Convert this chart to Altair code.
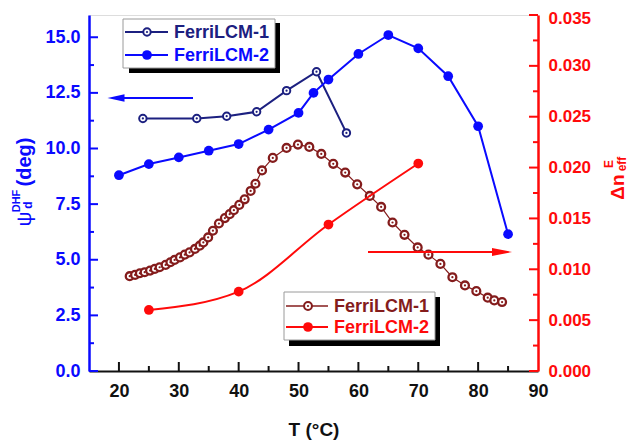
import altair as alt
import pandas as pd

# ---------------- data ----------------
# psi_d^DHF (deg), left axis
t_psi1 = [24, 33, 38, 43, 48, 53, 58]
psi1 = [11.35, 11.35, 11.45, 11.65, 12.6, 13.45, 10.7]
t_psi2 = [20, 25, 30, 35, 40, 45, 50, 52.5, 55, 60, 65, 70, 75, 80, 85]
psi2 = [8.8, 9.3, 9.6, 9.9, 10.2, 10.85, 11.6, 12.5, 13.1, 14.25, 15.1, 14.5, 13.25, 11.0, 6.15]

# Delta n_eff^E, right axis
t_dn1 = [21.8, 22.7, 23.5, 24.3, 25.2, 26.0, 26.8, 27.8, 28.6, 29.3, 30.2, 31.0, 31.8,
         32.7, 33.5, 34.1, 34.9, 35.7, 36.7, 37.7, 38.5, 39.2, 40.1, 41.0, 42.0, 42.8,
         43.9, 45.7, 48.0, 49.9, 51.8, 53.8, 55.8, 57.8, 59.8, 61.9, 63.8, 65.7, 67.7,
         69.9, 71.7, 73.7, 75.7, 77.8, 79.7, 81.6, 82.7, 84.0]
dn1 = [0.00932, 0.00945, 0.00961, 0.00971, 0.00987, 0.01004, 0.01020, 0.01043, 0.01069,
       0.01092, 0.01117, 0.01144, 0.01166, 0.01200, 0.01232, 0.01264, 0.01313, 0.01379,
       0.01450, 0.01503, 0.01542, 0.01581, 0.01633, 0.01688, 0.01770, 0.01841, 0.01972,
       0.02095, 0.02193, 0.02226, 0.02203, 0.02134, 0.02037, 0.01951, 0.01835, 0.01721,
       0.01613, 0.01460, 0.01339, 0.01215, 0.01144, 0.01053, 0.00922, 0.00841, 0.00785,
       0.00721, 0.00694, 0.00678]
t_dn2 = [25, 40, 55, 70]
dn2 = [0.0060, 0.0078, 0.0144, 0.0204]

# axis tick values
x_major = [20, 30, 40, 50, 60, 70, 80, 90]
x_minor = [25, 35, 45, 55, 65, 75, 85]
yl_major = [0, 2.5, 5, 7.5, 10, 12.5, 15]
yl_minor = [1.25, 3.75, 6.25, 8.75, 11.25, 13.75]
yr_major = [0, 0.005, 0.01, 0.015, 0.02, 0.025, 0.03, 0.035]
yr_minor = [0.0025, 0.0075, 0.0125, 0.0175, 0.0225, 0.0275, 0.0325]

legend_labels = ["FerriLCM-1", "FerriLCM-2"]

# ---------------- styling ----------------
FONT = "Liberation Sans"
BLUE = "#0a0aff"
NAVY = "#1c2080"
RED = "#ff0a0a"
WINE = "#841c1c"
W, H = 449, 356

x_axis = alt.Axis(values=x_major, format="d", domainColor="#111", domainWidth=2,
                  ticks=False, tickSize=0, labelColor="#111", labelFont=FONT,
                  labelFontWeight="bold", labelFontSize=18, labelPadding=11,
                  labelFlush=False, labelOverlap=False, grid=False, title=None)
yl_axis = alt.Axis(orient="left", values=yl_major, format=".1f", domainColor=BLUE,
                   domainWidth=2.5, ticks=False, tickSize=0, labelColor=BLUE,
                   labelFont=FONT, labelFontWeight="bold", labelFontSize=18,
                   labelPadding=9, labelOverlap=False, grid=False, title=None)
yr_axis = alt.Axis(orient="right", values=yr_major, format=".3f", domainColor=RED,
                   domainWidth=2.5, ticks=False, tickSize=0, labelColor=RED,
                   labelFont=FONT, labelFontWeight="bold", labelFontSize=17,
                   labelPadding=10, labelOverlap=False, grid=False, title=None,
                   labelOffset=alt.condition("datum.value >= 0.0349",
                                             alt.value(3), alt.value(0)))

x_scale = alt.Scale(domain=[15, 90], nice=False, zero=False)
yl_scale = alt.Scale(domain=[0, 16], nice=False, zero=False)
yr_scale = alt.Scale(domain=[0, 0.035], nice=False, zero=False)


def X(f):
    return alt.X(f, type="quantitative", scale=x_scale, axis=x_axis)


def YL(f):
    return alt.Y(f, type="quantitative", scale=yl_scale, axis=yl_axis)


def YR(f):
    return alt.Y(f, type="quantitative", scale=yr_scale, axis=yr_axis)


df_p1 = pd.DataFrame({"t": t_psi1, "v": psi1})
df_p2 = pd.DataFrame({"t": t_psi2, "v": psi2})
df_d1 = pd.DataFrame({"t": t_dn1, "v": dn1})
df_d2 = pd.DataFrame({"t": t_dn2, "v": dn2})

one = pd.DataFrame({"a": [0]})

# ---------------- left group ----------------
left = alt.layer(
    alt.Chart(pd.DataFrame({"v": yl_major})).mark_rule(color=BLUE, strokeWidth=2).encode(
        y=YL("v"), x=alt.value(0), x2=alt.value(9)),
    alt.Chart(pd.DataFrame({"v": yl_minor})).mark_rule(color=BLUE, strokeWidth=2).encode(
        y=YL("v"), x=alt.value(0), x2=alt.value(5)),
    alt.Chart(pd.DataFrame({"t": x_major[:-1]})).mark_rule(color="#111", strokeWidth=2).encode(
        x=X("t"), y=alt.value(H), y2=alt.value(H - 9)),
    alt.Chart(pd.DataFrame({"t": x_minor})).mark_rule(color="#111", strokeWidth=2).encode(
        x=X("t"), y=alt.value(H), y2=alt.value(H - 5)),
    alt.Chart(df_p1).mark_line(color=NAVY, strokeWidth=2).encode(x=X("t"), y=YL("v")),
    alt.Chart(df_p1).mark_point(color=NAVY, fill="white", filled=False, fillOpacity=1,
                                strokeWidth=2, size=55, opacity=1).encode(x=X("t"), y=YL("v")),
    alt.Chart(df_p1).mark_circle(color=NAVY, size=5, opacity=1).encode(x=X("t"), y=YL("v")),
    alt.Chart(df_p2).mark_line(color=BLUE, strokeWidth=2).encode(x=X("t"), y=YL("v")),
    alt.Chart(df_p2).mark_circle(color=BLUE, size=95, opacity=1).encode(x=X("t"), y=YL("v")),
)

# ---------------- right group ----------------
right = alt.layer(
    alt.Chart(pd.DataFrame({"v": yr_major})).mark_rule(color=RED, strokeWidth=2).encode(
        y=YR("v"), x=alt.value(W), x2=alt.value(W - 9)),
    alt.Chart(pd.DataFrame({"v": yr_minor})).mark_rule(color=RED, strokeWidth=2).encode(
        y=YR("v"), x=alt.value(W), x2=alt.value(W - 5)),
    alt.Chart(df_d1).mark_line(color=WINE, strokeWidth=1.2).encode(x=X("t"), y=YR("v")),
    alt.Chart(df_d1).mark_point(color=WINE, fill="white", filled=False, fillOpacity=1,
                                strokeWidth=2.3, size=62, opacity=1).encode(x=X("t"), y=YR("v")),
    alt.Chart(df_d1).mark_circle(color=WINE, size=5, opacity=1).encode(x=X("t"), y=YR("v")),
    alt.Chart(df_d2).mark_line(color=RED, strokeWidth=2, interpolate="monotone").encode(
        x=X("t"), y=YR("v")),
    alt.Chart(df_d2).mark_circle(color=RED, size=95, opacity=1).encode(x=X("t"), y=YR("v")),
)


# ---------------- annotations (legends, arrows, titles) ----------------
def rect(x, x2, y, y2, **kw):
    return alt.Chart(one).mark_rect(**kw).encode(
        x=alt.value(x), x2=alt.value(x2), y=alt.value(y), y2=alt.value(y2))


def hline(x, x2, y, color, sw=2):
    return alt.Chart(one).mark_rule(color=color, strokeWidth=sw).encode(
        x=alt.value(x), x2=alt.value(x2), y=alt.value(y))


def txt(x, y, s, color, size=18, weight="bold", angle=0, align="left"):
    return alt.Chart(one).mark_text(text=s, color=color, font=FONT, fontSize=size,
                                    fontWeight=weight, angle=angle, align=align,
                                    baseline="middle").encode(x=alt.value(x), y=alt.value(y))


def open_sym(x, y, color, size=55):
    return [
        alt.Chart(one).mark_point(color=color, fill="white", filled=False, fillOpacity=1,
                                  strokeWidth=2, size=size, opacity=1).encode(
            x=alt.value(x), y=alt.value(y)),
        alt.Chart(one).mark_circle(color=color, size=5, opacity=1).encode(
            x=alt.value(x), y=alt.value(y)),
    ]


def full_sym(x, y, color):
    return [alt.Chart(one).mark_circle(color=color, size=95, opacity=1).encode(
        x=alt.value(x), y=alt.value(y))]


def arrow_head(x, y, color, path, size):
    return alt.Chart(one).mark_point(shape=path, filled=True, color=color, size=size,
                                     opacity=1).encode(x=alt.value(x), y=alt.value(y))


ann = [
    # legend 1
    rect(40, 191, 8, 58, color="black"),
    rect(34, 186, 4, 53, fill="white", stroke="#9a9a9a", strokeWidth=1),
    hline(36, 79, 17, NAVY), *open_sym(58, 17, NAVY),
    txt(85, 18, legend_labels[0], NAVY),
    hline(36, 79, 40, BLUE), *full_sym(58, 40, BLUE),
    txt(85, 41, legend_labels[1], BLUE),
    # legend 2
    rect(200, 351, 282, 331, color="black"),
    rect(195, 346, 277, 325, fill="white", stroke="#9a9a9a", strokeWidth=1),
    hline(197, 239, 291, WINE, 1.5), *open_sym(219, 291, WINE, 62),
    txt(245, 292, legend_labels[0], WINE),
    hline(197, 239, 312, RED), *full_sym(219, 312, RED),
    txt(245, 313, legend_labels[1], RED),
    # arrows
    hline(24, 104, 83, BLUE),
    arrow_head(27, 83, BLUE, "M-1,0L1,-0.45L1,0.45Z", 289),
    hline(279, 416, 237, RED),
    arrow_head(413, 237, RED, "M1,0L-1,-0.4L-1,0.4Z", 400),
    # left axis title
    txt(-64, 147, "(deg)", BLUE, size=20, angle=270, align="center"),
    txt(-72, 186, "DHF", BLUE, size=11, angle=270, align="center"),
    txt(-61, 190, "d", BLUE, size=12, angle=270, align="center"),
    txt(-64, 204, "ψ", BLUE, size=21, weight="normal", angle=270, align="center"),
    # right axis title
    txt(529, 172, "Δn", RED, size=19, angle=270, align="center"),
    txt(520, 149, "E", RED, size=12, angle=270, align="center"),
    txt(533, 149, "eff", RED, size=12, angle=270, align="center"),
    # x axis title
    txt(225, 415, "T (°C)", "#111", size=19, align="center"),
]

chart = alt.layer(left, right, *ann).resolve_scale(y="independent").properties(
    width=W, height=H,
    padding={"left": 81, "top": 7, "right": 90, "bottom": 69},
    autosize=alt.AutoSizeParams(type="none"),
).configure_view(stroke=None).configure(background="white")

chart.save("out.html", embed_options={"renderer": "svg", "actions": False})
